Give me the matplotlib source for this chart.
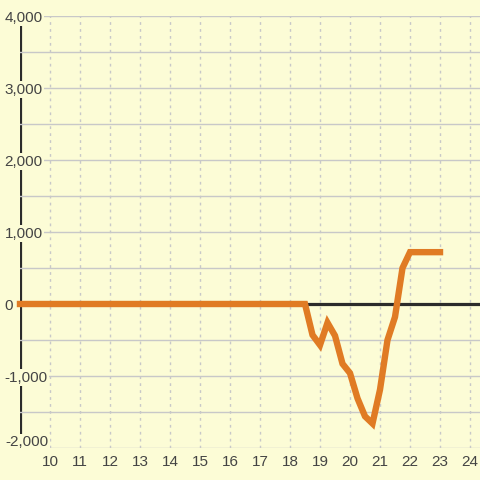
import matplotlib
matplotlib.use("Agg")
import matplotlib.pyplot as plt
from matplotlib.ticker import MultipleLocator, FuncFormatter

# hours (quarter-hour steps) and values
hours = [9.0, 18.5, 18.75, 19.0, 19.25, 19.5, 19.75, 20.0, 20.25, 20.5, 20.75,
         21.0, 21.25, 21.5, 21.75, 22.0, 23.0]
values = [0, 0, -430, -570, -260, -440, -830, -960, -1310, -1560, -1660,
          -1190, -500, -180, 500, 720, 720]

x_ticks = list(range(10, 25))
bg = '#fcfcd6'
txt = '#444444'

plt.rcParams['font.family'] = ['Liberation Sans', 'DejaVu Sans']

fig = plt.figure(figsize=(4.8, 4.8), dpi=100, facecolor=bg)
ax = fig.add_axes([20/480, 32/480, 460/480, 432/480])
ax.set_facecolor(bg)
ax.set_xlim(9, 9 + 460/30)
ax.set_ylim(-2000, 4000)

for s in ax.spines.values():
    s.set_visible(False)

def fmt(v, p):
    # bottom label is placed by hand a bit higher
    if v <= -2000:
        return ''
    return '{:,.0f}'.format(v)

ax.set_axisbelow(True)
ax.yaxis.set_major_locator(MultipleLocator(1000))
ax.yaxis.set_minor_locator(MultipleLocator(500))
ax.yaxis.set_major_formatter(FuncFormatter(fmt))
ax.set_xticks(x_ticks)
ax.grid(axis='y', which='both', color='#c8c8c8', lw=1, ls='-')
ax.grid(axis='x', which='major', color='#c8c8c8', lw=1, ls=(0, (2, 3)))

ax.tick_params(axis='y', which='both', length=0, pad=11, labelsize=11, labelcolor=txt)
ax.tick_params(axis='x', length=0, pad=5, labelsize=11, labelcolor=txt)
for lab in ax.get_yticklabels():
    lab.set_horizontalalignment('left')
    lab.set_bbox(dict(facecolor=bg, edgecolor='none', pad=1))

ax.text(-15/460, 6/432, '-2,000', transform=ax.transAxes, ha='left', va='center',
        fontsize=11, color=txt, zorder=0.6,
        bbox=dict(facecolor=bg, edgecolor='none', pad=1))

# left axis line and zero line
ax.axvline(9, color='#2b2b2b', lw=2.3, zorder=0.4)
ax.axhline(0, color='#2b2b2b', lw=2.3, zorder=1.5)

ax.plot(hours, values, color='#e07b24', lw=4.6, solid_joinstyle='miter', zorder=3, clip_on=False)

fig.savefig('out.png', dpi=100, facecolor=bg)
